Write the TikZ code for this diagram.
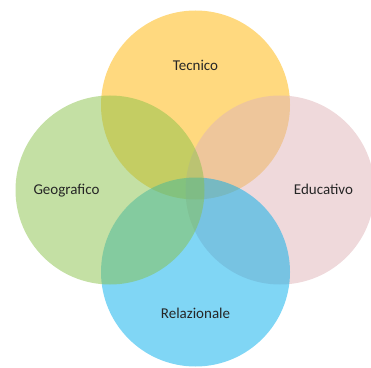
\documentclass[tikz,border=0pt]{standalone}
\usepackage{fontspec}
\setmainfont{Carlito}
\usepackage{tikz}
\usetikzlibrary{positioning}
\definecolor{tecnicocolor}{RGB}{255, 180, 0}
\definecolor{geograficocolor}{RGB}{137, 193, 73}
\definecolor{educativocolor}{RGB}{223, 179, 183}
\definecolor{relazionalecolor}{RGB}{1, 173, 235}
\definecolor{labelcolor}{RGB}{38, 38, 38}

\begin{document}
\begin{tikzpicture}[x=1pt, y=1pt,
    venn/.style={circle, inner sep=0pt, minimum size=189pt, fill opacity=0.5},
    vennlabel/.style={anchor=base, font=\fontsize{15}{18}\selectfont, text=labelcolor}]
    \useasboundingbox (0, 0) rectangle (371, 367);
    \clip (0, 0) rectangle (371, 367);

    % Circles (drawing order gives the overlap colours)
    \node[venn, fill=tecnicocolor] (tecnico) at (195.5, 262) {};
    \node[venn, fill=educativocolor] (educativo) at (280, 177) {};
    \node[venn, fill=relazionalecolor] (relazionale) at (195.5, 95) {};
    \node[venn, fill=geograficocolor] (geografico) at (110, 177) {};

    % Labels
    \node[vennlabel] (tecnicolabel) at (195.5, 296.5) {Tecnico};
    \node[vennlabel] (geograficolabel) at (66.5, 172.7) {Geografico};
    \node[vennlabel] (educativolabel) at (323.5, 172.7) {Educativo};
    \node[vennlabel] (relazionalelabel) at (195.5, 48.7) {Relazionale};

\end{tikzpicture}
\end{document}
